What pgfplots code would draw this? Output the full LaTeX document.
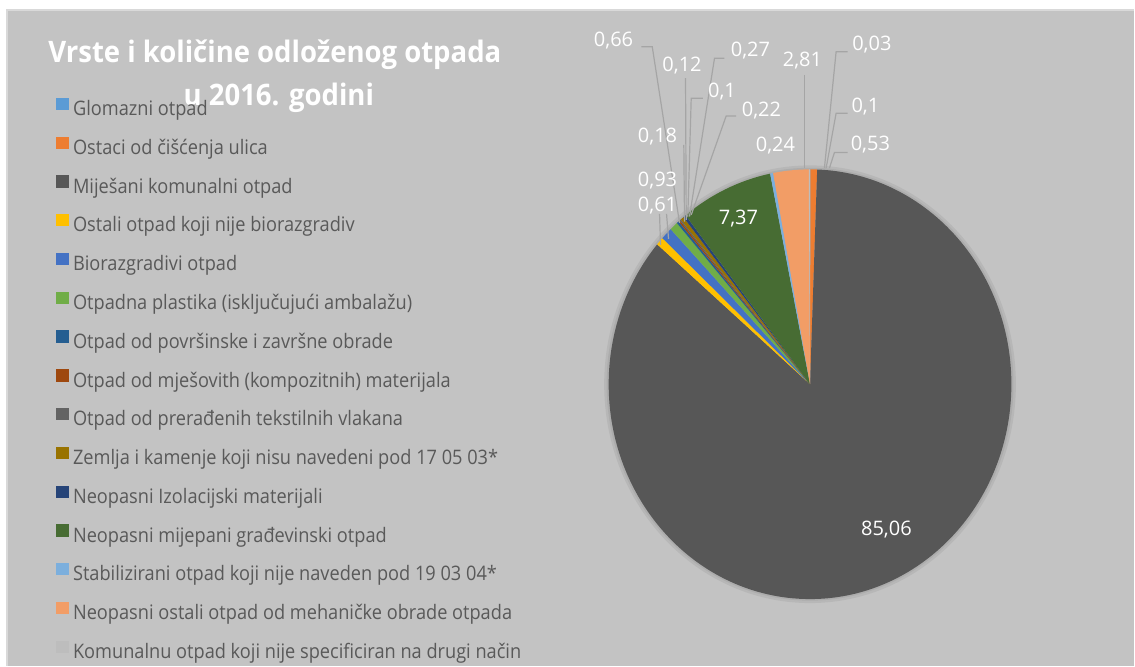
\documentclass[border=0pt]{standalone}
\usepackage{fontspec}
\setmainfont{Open Sans}
\newfontfamily\legfont{Open Sans}[FakeStretch=0.91]
\newfontfamily\titlefont{Open Sans}[FakeStretch=0.93]
\usepackage{pgfplots}
\pgfplotsset{compat=1.18}
\usepackage{pgfplotstable}

\definecolor{bg}{HTML}{C3C3C3}
\definecolor{txt}{HTML}{595959}
\definecolor{lead}{HTML}{A5A5A5}
\definecolor{c0}{HTML}{5B9BD5}
\definecolor{c1}{HTML}{ED7D31}
\definecolor{c2}{HTML}{575757}
\definecolor{c3}{HTML}{FFC000}
\definecolor{c4}{HTML}{4472C4}
\definecolor{c5}{HTML}{70AD47}
\definecolor{c6}{HTML}{255E91}
\definecolor{c7}{HTML}{9E480E}
\definecolor{c8}{HTML}{636363}
\definecolor{c9}{HTML}{997300}
\definecolor{c10}{HTML}{264478}
\definecolor{c11}{HTML}{476C33}
\definecolor{c12}{HTML}{7CAFDD}
\definecolor{c13}{HTML}{F29D66}
\definecolor{c14}{HTML}{BDBDBD}

% share of each waste type, in legend order (clockwise from 12 o'clock)
\pgfplotstableread{
val
0.03
0.53
85.06
0.61
0.93
0.66
0.18
0.12
0.1
0.27
0.22
7.37
0.24
2.81
0.1
}\piedata

% pie centre and radii in reference pixels (axis units = pixels)
\def\cx{810.6}
\def\cy{384.5}
\def\rx{201.5}
\def\ry{215}

\tikzset{
  lbl/.style={text=white, font=\fontsize{10}{12}\selectfont, anchor=base, inner sep=0pt},
  ldr/.style={draw=lead, line width=0.6pt},
  ttl/.style={text=white, font=\titlefont\bfseries\fontsize{14.8}{18}\selectfont, anchor=base, inner sep=0pt},
}

\begin{document}
\begin{tikzpicture}
\begin{axis}[
  scale only axis, width=567.5pt, height=333pt,
  xmin=0, xmax=1135, ymin=0, ymax=666, y dir=reverse,
  hide axis, clip=false,
  legend image code/.code={\fill[#1] (0pt,0.15pt) rectangle (6.15pt,6.3pt);},
  legend cell align=left,
  legend style={
    at={(axis cs:56,97.5)}, anchor=north west,
    draw=none, fill=none, inner sep=0pt,
    font=\legfont\fontsize{10}{12}\selectfont, text=txt,
    nodes={inner sep=0pt, text height=7.2pt, text depth=2pt},
    row sep=8.5pt,
    /tikz/every odd column/.append style={column sep=2.2pt},
  },
  legend entries={
    Glomazni otpad,
    Ostaci od čišćenja ulica,
    Miješani komunalni otpad,
    Ostali otpad koji nije biorazgradiv,
    Biorazgradivi otpad,
    Otpadna plastika (isključujući ambalažu),
    Otpad od površinske i završne obrade,
    Otpad od mješovith (kompozitnih) materijala,
    Otpad od prerađenih tekstilnih vlakana,
    Zemlja i kamenje koji nisu navedeni pod 17 05 03*,
    Neopasni Izolacijski materijali,
    Neopasni mijepani građevinski otpad,
    Stabilizirani otpad koji nije naveden pod 19 03 04*,
    Neopasni ostali otpad od mehaničke obrade otpada,
    Komunalnu otpad koji nije specificiran na drugi način,
  },
]
% chart area
\fill[white] (axis cs:0,0) rectangle (axis cs:1135,666);
\fill[bg] (axis cs:7,10) rectangle (axis cs:1135,666);
\draw[white!85!black, line width=0.8pt] (axis cs:7,666) -- (axis cs:7,10) -- (axis cs:1135,10);

% soft shadow round the pie
\fill[black, opacity=0.06] (axis cs:\cx,\cy) ellipse [x radius=103pt, y radius=109.5pt];
\fill[black, opacity=0.06] (axis cs:\cx,\cy) ellipse [x radius=101.8pt, y radius=108.3pt];

% slices
\pgfmathsetmacro\total{0}
\pgfplotsforeachungrouped \i in {0,...,14}{%
  \pgfplotstablegetelem{\i}{val}\of\piedata
  \pgfmathsetmacro\total{\total+\pgfplotsretval}%
}
\pgfmathsetmacro\cum{0}
\pgfplotsforeachungrouped \i in {0,...,14}{%
  \pgfplotstablegetelem{\i}{val}\of\piedata
  \pgfmathsetmacro\ta{\cum/\total*360}%
  \pgfmathsetmacro\cum{\cum+\pgfplotsretval}%
  \pgfmathsetmacro\tb{\cum/\total*360}%
  \pgfmathsetmacro\xa{\cx+\rx*sin(\ta)}%
  \pgfmathsetmacro\ya{\cy-\ry*cos(\ta)}%
  \pgfmathsetmacro\pa{90-\ta}%
  \pgfmathsetmacro\pb{90-\tb}%
  \edef\slice{\noexpand\addplot[draw=none, fill=c\i]
    coordinates {(\cx,\cy) (\xa,\ya)}
    arc[start angle=\pa, end angle=\pb, x radius=100.75pt, y radius=107.5pt] -- cycle;}%
  \slice
}

% title
\node[ttl] at (axis cs:275,63) {Vrste i količine odloženog otpada};
\node[ttl] at (axis cs:279,106) {u 2016. godini};

% leader lines
\draw[ldr] (axis cs:641.7,46.7) -- (axis cs:652.7,46.7) -- (axis cs:680,223);
\draw[ldr] (axis cs:686,78.3) -- (axis cs:686.7,220);
\draw[ldr] (axis cs:703.3,98.3) -- (axis cs:691.7,98.3) -- (axis cs:688.3,216.7);
\draw[ldr] (axis cs:725,58.3) -- (axis cs:715,58.3) -- (axis cs:690,216.7);
\draw[ldr] (axis cs:736.7,116) -- (axis cs:726.7,116) -- (axis cs:691.7,215);
\draw[ldr] (axis cs:684.3,145) -- (axis cs:685,221.7);
\draw[ldr] (axis cs:667,214) -- (axis cs:669,239);
\draw[ldr] (axis cs:660,214) -- (axis cs:661,245);
\draw[ldr] (axis cs:805,75) -- (axis cs:805,168.3);
\draw[ldr] (axis cs:848.3,51.7) -- (axis cs:836.7,51.7) -- (axis cs:825,168.3);
\draw[ldr] (axis cs:848.3,113.3) -- (axis cs:836.7,113.3) -- (axis cs:826.7,168.3);
\draw[ldr] (axis cs:848.3,152.7) -- (axis cs:835,152.7) -- (axis cs:830,168.3);

% data labels
\node[lbl] at (axis cs:614,47) {0,66};
\node[lbl] at (axis cs:682.5,71.7) {0,12};
\node[lbl] at (axis cs:751,57) {0,27};
\node[lbl] at (axis cs:722.5,98) {0,1};
\node[lbl] at (axis cs:762,117) {0,22};
\node[lbl] at (axis cs:658,143) {0,18};
\node[lbl] at (axis cs:658,186.7) {0,93};
\node[lbl] at (axis cs:658,211.7) {0,61};
\node[lbl] at (axis cs:803,67) {2,81};
\node[lbl] at (axis cs:872.5,50.7) {0,03};
\node[lbl] at (axis cs:866,112.7) {0,1};
\node[lbl] at (axis cs:871,150.7) {0,53};
\node[lbl] at (axis cs:776,152) {0,24};
\node[lbl] at (axis cs:739,225) {7,37};
\node[lbl] at (axis cs:887,536) {85,06};
\end{axis}
\end{tikzpicture}
\end{document}
